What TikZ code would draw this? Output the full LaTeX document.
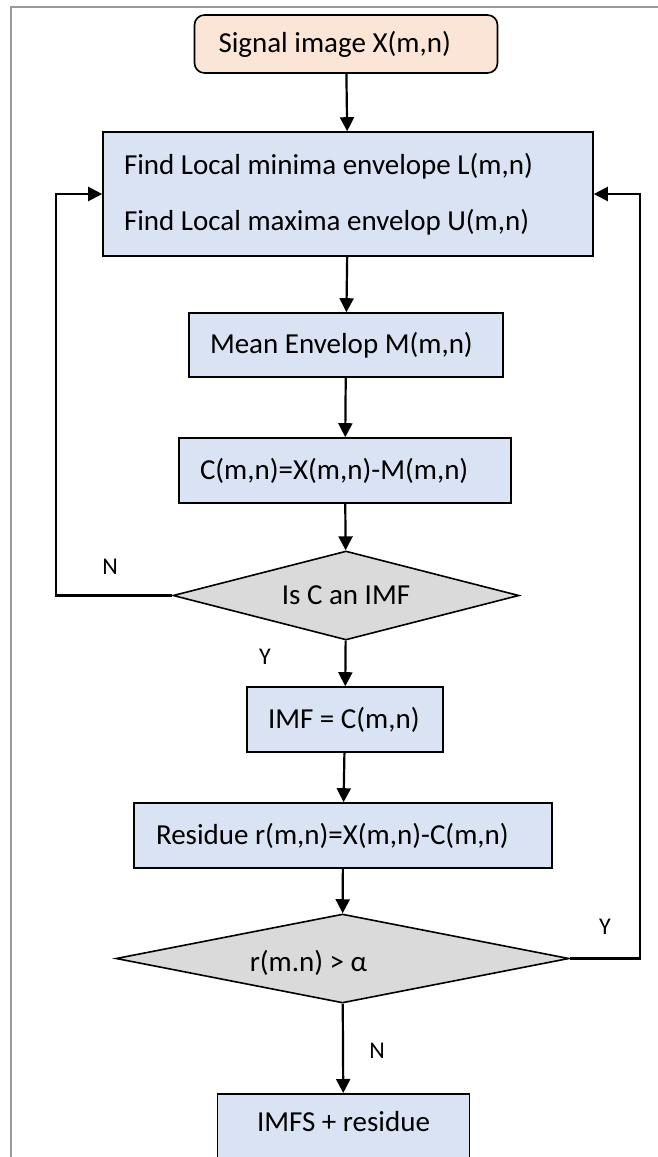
\documentclass[tikz,border=0pt]{standalone}
\usepackage{fontspec}
\setmainfont{Carlito}
\usetikzlibrary{arrows.meta,shapes.geometric,positioning}
\definecolor{startfill}{HTML}{FBE5D6}
\definecolor{procfill}{HTML}{DAE3F3}
\definecolor{decfill}{HTML}{DADADA}
\tikzset{every picture/.style={line width=2pt}}

\begin{document}
\begin{tikzpicture}[x=1pt, y=-1pt,
    txt/.style={font=\fontsize{29}{35}\selectfont, inner sep=0pt},
    yn/.style={font=\fontsize{24}{28}\selectfont, inner sep=0pt},
    padded/.style={text width=#1, align=flush left},
    startbox/.style={draw, line width=1.6pt, fill=startfill, rounded corners=10pt, minimum width=303pt, minimum height=58pt, txt},
    procbox/.style={draw, line width=1.6pt, fill=procfill, minimum height=65pt, txt},
    decision/.style={draw, line width=1.6pt, fill=decfill, diamond, aspect=4, txt},
    flow/.style={line width=2.2pt, -{Triangle[length=14pt, width=14pt]}}]
    \useasboundingbox (0,0) rectangle (658,1157);
    \clip (0,0) rectangle (658,1157);

    % 外框
    \draw[gray!80, line width=1.5pt] (11,7) rectangle (720,1220);

    % 各个步骤
    \node[startbox, padded=255pt] (sig) at (346,44) {Signal image X(m,n)};
    \node[procbox, minimum width=490pt, minimum height=124pt, padded=448pt] (env) at (348,194)
        {Find Local minima envelope L(m,n)\\[21pt]Find Local maxima envelop U(m,n)};
    \node[procbox, minimum width=314pt, minimum height=64pt, padded=272pt] (mean) at (346,345) {Mean Envelop M(m,n)};
    \node[procbox, minimum width=332pt, padded=290pt] (cdiff) at (345,470.5) {C(m,n)=X(m,n)-M(m,n)};
    \node[decision, minimum width=346pt, minimum height=89pt] (isimf) at (346,595.5) {Is C an IMF};
    \node[procbox, minimum width=196pt, padded=154pt] (imf) at (345,719.5) {IMF = C(m,n)};
    \node[procbox, minimum width=418pt, padded=374pt] (resid) at (343,835.5) {Residue r(m,n)=X(m,n)-C(m,n)};
    \node[decision, minimum width=453pt, minimum height=89pt] (thr) at (342.5,958.5) {};
    \node[txt] (thrtxt) at (308.5,963) {r(m.n) > α};
    \node[procbox, anchor=north, minimum width=252pt, text height=28pt, text depth=45pt, inner ysep=10pt] (out) at (343.5,1093) {IMFS + residue};

    % 主流程箭头
    \draw[flow] (sig) -- (env);
    \draw[flow] (env) -- (mean);
    \draw[flow] (mean) -- (cdiff);
    \draw[flow] (cdiff) -- (isimf);
    \draw[flow] (isimf) -- (imf);
    \draw[flow] (imf) -- (resid);
    \draw[flow] (resid) -- (thr);
    \draw[flow] (thr) -- (out);

    % 回路
    \draw[flow] (isimf.west) -- ++(-116,0) |- (env.west);
    \draw[flow] (thr.east) -- ++(70,0) |- (env.east);

    % 判断标注
    \node[yn] (nolab1) at (110,567) {N};
    \node[yn] (yeslab1) at (265,657) {Y};
    \node[yn] (yeslab2) at (605,927) {Y};
    \node[yn] (nolab2) at (377,1051) {N};
\end{tikzpicture}
\end{document}
